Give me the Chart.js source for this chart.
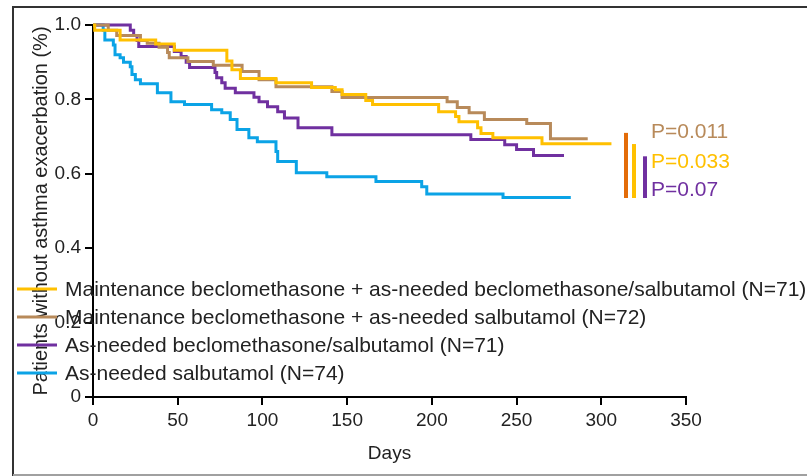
<!DOCTYPE html>
<html>
<head>
<meta charset="utf-8">
<script src="https://cdn.jsdelivr.net/npm/chart.js@4.4.1/dist/chart.umd.min.js"></script>
<style>
  html, body { margin: 0; padding: 0; background: #fff; }
</style>
</head>
<body>
<canvas id="myChart" width="807" height="476"></canvas>
<script>
  // Series labels (legend order)
  const seriesLabels = [
    'Maintenance beclomethasone + as-needed beclomethasone/salbutamol (N=71)',
    'Maintenance beclomethasone + as-needed salbutamol (N=72)',
    'As-needed beclomethasone/salbutamol (N=71)',
    'As-needed salbutamol (N=74)'
  ];
  const seriesColors = ['#FFC000', '#B88A5A', '#7030A0', '#0BA3E6'];

  // Kaplan-Meier steps: day of event, survival after it
  const mbmDays = [0, 1, 16, 37, 48, 79, 82, 87, 108, 129, 143, 147, 161, 165, 204, 214, 216, 227, 229, 236, 265, 306];
  const mbmSurv = [1, 0.986, 0.96, 0.949, 0.932, 0.903, 0.88, 0.856, 0.845, 0.832, 0.826, 0.813, 0.797, 0.786, 0.767, 0.754, 0.74, 0.724, 0.708, 0.697, 0.681, 0.681];

  const mbsDays = [0, 9, 14, 28, 32, 39, 44, 45, 56, 71, 88, 98, 108, 141, 147, 209, 215, 222, 231, 256, 270, 292];
  const mbsSurv = [1, 0.986, 0.972, 0.958, 0.951, 0.94, 0.926, 0.912, 0.902, 0.892, 0.875, 0.853, 0.834, 0.821, 0.805, 0.794, 0.778, 0.764, 0.746, 0.735, 0.694, 0.694];

  const abmDays = [0, 22, 24, 26, 27, 48, 52, 55, 57, 72, 73, 76, 78, 84, 95, 98, 103, 109, 113, 121, 141, 223, 243, 250, 260, 278];
  const abmSurv = [1, 0.986, 0.972, 0.958, 0.942, 0.929, 0.915, 0.9, 0.886, 0.872, 0.858, 0.845, 0.83, 0.818, 0.806, 0.794, 0.78, 0.767, 0.75, 0.724, 0.705, 0.692, 0.678, 0.665, 0.649, 0.649];

  const asDays = [0, 6, 7, 12, 13, 16, 18, 22, 23, 25, 28, 38, 46, 54, 70, 76, 81, 85, 92, 97, 108, 109, 120, 138, 167, 194, 197, 242, 282];
  const asSurv = [1, 0.986, 0.96, 0.946, 0.92, 0.912, 0.9, 0.888, 0.867, 0.853, 0.842, 0.818, 0.794, 0.786, 0.772, 0.764, 0.746, 0.719, 0.697, 0.686, 0.66, 0.633, 0.603, 0.592, 0.579, 0.565, 0.546, 0.536, 0.536];

  // Axis ticks
  const xTicks = [0, 50, 100, 150, 200, 250, 300, 350];
  const yTicks = [0, 0.2, 0.4, 0.6, 0.8, 1.0];
  const yTickLabels = ['0', '0.2', '0.4', '0.6', '0.8', '1.0'];

  // P values next to the curve ends
  const pLabels = ['P=0.011', 'P=0.033', 'P=0.07'];
  const pColors = ['#B88A5A', '#FFC000', '#7030A0'];
  const pBarColors = ['#E36C09', '#FFC000', '#7030A0'];

  const toPoints = (days, surv) => days.map((d, i) => ({ x: d, y: surv[i] }));
  const allSeries = [[mbmDays, mbmSurv], [mbsDays, mbsSurv], [abmDays, abmSurv], [asDays, asSurv]];

  const FONT = 'Arial, "Liberation Sans", sans-serif';

  // frame, legend and p-value annotation
  const decorations = {
    id: 'decorations',
    beforeDraw(chart) {
      const c = chart.ctx;
      c.save();
      c.fillStyle = '#fff';
      c.fillRect(0, 0, chart.width, chart.height);
      c.lineWidth = 2;
      c.strokeStyle = '#333';
      c.beginPath();
      c.moveTo(13, 476);
      c.lineTo(13, 7);
      c.lineTo(807, 7);
      c.stroke();
      c.strokeStyle = '#a0a0a0';
      c.beginPath();
      c.moveTo(13, 475);
      c.lineTo(807, 475);
      c.stroke();
      c.restore();
    },
    afterDraw(chart) {
      const c = chart.ctx;
      const ys = chart.scales.y;
      c.save();
      // legend
      c.font = '21px ' + FONT;
      c.textBaseline = 'middle';
      chart.data.datasets.forEach((ds, i) => {
        const y = 289 + i * 28;
        c.strokeStyle = ds.borderColor;
        c.lineWidth = 3;
        c.beginPath();
        c.moveTo(17, y);
        c.lineTo(57, y);
        c.stroke();
        c.fillStyle = '#222';
        c.fillText(ds.label, 65, y + 1);
      });
      // p-value bars
      const bars = [[626, 0.71, 0.535], [634, 0.68, 0.535], [645, 0.647, 0.535]];
      bars.forEach((b, i) => {
        c.strokeStyle = pBarColors[i];
        c.lineWidth = 4;
        c.beginPath();
        c.moveTo(b[0], ys.getPixelForValue(b[1]));
        c.lineTo(b[0], ys.getPixelForValue(b[2]));
        c.stroke();
      });
      c.font = '21px ' + FONT;
      [132, 162, 190].forEach((y, i) => {
        c.fillStyle = pColors[i];
        c.fillText(pLabels[i], 651, y);
      });
      c.restore();
    }
  };

  const ctx = document.getElementById('myChart').getContext('2d');
  const myChart = new Chart(ctx, {
    type: 'line',
    data: {
      datasets: allSeries.map((s, i) => ({
        label: seriesLabels[i],
        data: toPoints(s[0], s[1]),
        borderColor: seriesColors[i],
        backgroundColor: seriesColors[i],
        borderWidth: 3,
        pointRadius: 0,
        stepped: 'before',
        fill: false,
        clip: false
      }))
    },
    options: {
      responsive: false,
      animation: false,
      devicePixelRatio: 1,
      layout: { padding: { left: 0, top: 25, right: 121, bottom: 0 } },
      plugins: { legend: { display: false }, tooltip: { enabled: false } },
      scales: {
        x: {
          type: 'linear',
          min: 0,
          max: 350,
          afterBuildTicks: (scale) => { scale.ticks = xTicks.map(v => ({ value: v })); },
          afterFit: (scale) => { scale.height = 79; },
          grid: { display: true, drawOnChartArea: false, drawTicks: true, tickLength: 8, color: '#000', lineWidth: 2 },
          border: { display: true, color: '#000', width: 2 },
          ticks: { color: '#222', font: { family: FONT, size: 19 }, padding: 4, maxRotation: 0 },
          title: { display: true, text: 'Days', color: '#222', font: { family: FONT, size: 19 }, padding: { top: 1, bottom: 11 } }
        },
        y: {
          type: 'linear',
          min: 0,
          max: 1,
          afterBuildTicks: (scale) => { scale.ticks = yTicks.map(v => ({ value: v })); },
          afterFit: (scale) => { scale.width = 93; },
          grid: { display: true, drawOnChartArea: false, drawTicks: true, tickLength: 8, color: '#000', lineWidth: 2 },
          border: { display: true, color: '#000', width: 2 },
          ticks: {
            color: '#222',
            font: { family: FONT, size: 19 },
            padding: 4,
            callback: (v) => yTickLabels[yTicks.indexOf(v)]
          },
          title: { display: true, text: 'Patients without asthma exacerbation (%)', color: '#222', font: { family: FONT, size: 20 }, padding: { top: 29, bottom: 0 } }
        }
      }
    },
    plugins: [decorations]
  });
</script>
</body>
</html>
